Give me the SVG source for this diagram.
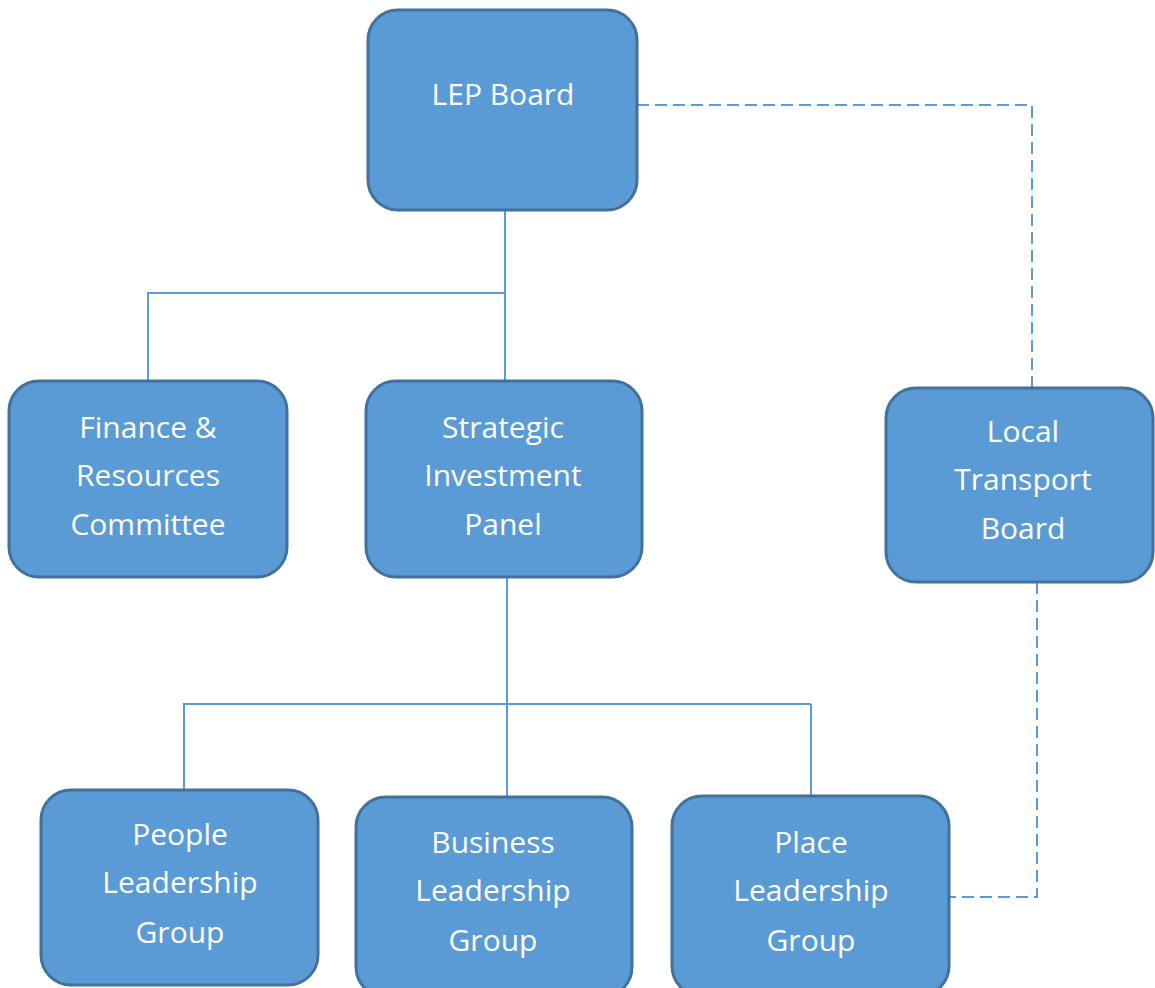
<svg xmlns="http://www.w3.org/2000/svg" width="1155" height="988" viewBox="0 0 1155 988">
<style>
.box{fill:#5B9BD5;stroke:#41719C;stroke-width:3}
.t{fill:#fff;font-family:"Open Sans","Liberation Sans",sans-serif;font-size:30px;text-anchor:middle}
.ln{fill:none;stroke:#5B9BD5;stroke-width:2}
.dash{fill:none;stroke:#5B9BD5;stroke-width:2;stroke-dasharray:12,6}
</style>
<rect width="1155" height="988" fill="#fff"/>
<g id="connectors">
<path class="ln" d="M505,210 V381 M505,293 H147 M148,293 V381"/>
<path class="ln" d="M507,577 V797 M183,704 H811 M184,704 V790 M811,704 V797"/>
<path class="dash" d="M637,105 H1032 V388"/>
<path class="dash" d="M1037,582 V897 H950"/>
</g>
<g id="lep"><rect class="box" x="368" y="10" width="269" height="200" rx="30"/><text class="t" x="503" y="105">LEP Board</text></g>
<g id="finance"><rect class="box" x="9" y="381" width="278" height="196" rx="30"/><text class="t" x="148" y="438">Finance &amp;</text><text class="t" x="148" y="486">Resources</text><text class="t" x="148" y="535">Committee</text></g>
<g id="strategic"><rect class="box" x="366" y="381" width="276" height="196" rx="30"/><text class="t" x="503" y="438">Strategic</text><text class="t" x="503" y="486">Investment</text><text class="t" x="503" y="535">Panel</text></g>
<g id="transport"><rect class="box" x="886" y="388" width="267" height="194" rx="30"/><text class="t" x="1023" y="442">Local</text><text class="t" x="1023" y="490">Transport</text><text class="t" x="1023" y="539">Board</text></g>
<g id="people"><rect class="box" x="41" y="790" width="277" height="195" rx="30"/><text class="t" x="180" y="845">People</text><text class="t" x="180" y="893">Leadership</text><text class="t" x="180" y="943">Group</text></g>
<g id="business"><rect class="box" x="356" y="797" width="276" height="200" rx="30"/><text class="t" x="493" y="853">Business</text><text class="t" x="493" y="901">Leadership</text><text class="t" x="493" y="951">Group</text></g>
<g id="place"><rect class="box" x="672" y="796" width="277" height="200" rx="30"/><text class="t" x="811" y="853">Place</text><text class="t" x="811" y="901">Leadership</text><text class="t" x="811" y="951">Group</text></g>
</svg>
